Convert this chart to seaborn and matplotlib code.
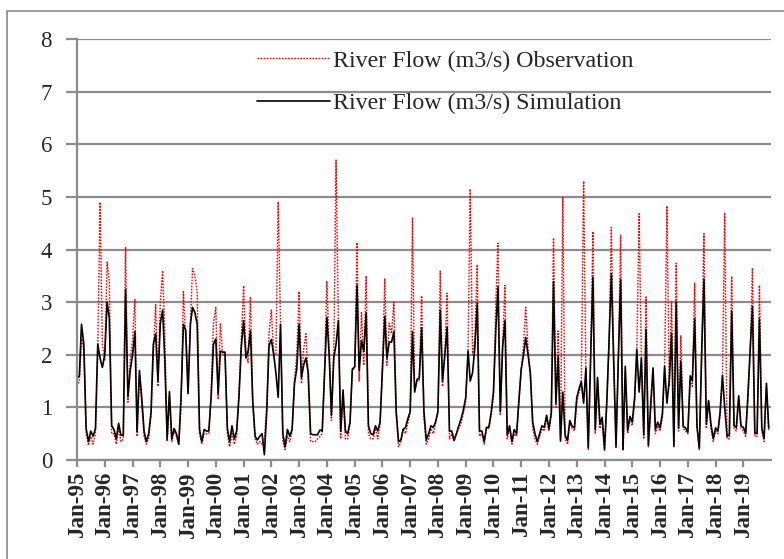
import numpy as np
import pandas as pd
import matplotlib
matplotlib.use("Agg")
import matplotlib.pyplot as plt
import matplotlib.dates as mdates
from matplotlib.patches import Rectangle
import seaborn as sns

# ---------------- data (monthly, Jan-1995 .. Dec-2019) ----------------
start_month = "1995-01-01"
n_months = 300

sim_flow = [
    1.55, 1.60, 2.58, 2.20, 0.60, 0.35, 0.55, 0.45, 0.60, 2.20, 1.93, 1.76,  # 1995
    2.00, 3.00, 2.70, 0.65, 0.58, 0.40, 0.70, 0.47, 0.47, 3.24, 1.20, 1.70,  # 1996
    2.00, 2.44, 0.54, 1.70, 1.20, 0.55, 0.35, 0.50, 0.90, 2.20, 2.40, 1.50,  # 1997
    2.60, 2.85, 1.90, 0.40, 1.30, 0.40, 0.60, 0.50, 0.30, 1.20, 2.58, 2.47,  # 1998
    1.26, 2.58, 2.90, 2.80, 2.58, 0.58, 0.35, 0.58, 0.55, 0.55, 1.20, 2.20,  # 1999
    2.30, 1.26, 2.07, 2.05, 2.05, 0.60, 0.35, 0.65, 0.40, 0.55, 1.20, 2.14,  # 2000
    2.65, 1.94, 2.07, 2.46, 1.12, 0.45, 0.38, 0.45, 0.50, 0.10, 0.92, 2.17,  # 2001
    2.29, 2.00, 1.66, 1.19, 2.58, 0.50, 0.25, 0.58, 0.45, 0.58, 1.46, 1.73,  # 2002
    2.58, 1.56, 1.80, 1.94, 1.66, 0.50, 0.48, 0.48, 0.48, 0.57, 0.55, 1.60,  # 2003
    2.71, 2.00, 0.85, 1.94, 2.20, 2.65, 0.55, 1.33, 0.55, 0.50, 0.72, 1.73,  # 2004
    1.77, 3.32, 1.70, 2.27, 2.07, 2.80, 0.65, 0.50, 0.48, 0.65, 0.55, 0.72,  # 2005
    1.73, 2.73, 1.94, 2.24, 2.24, 2.44, 0.92, 0.35, 0.38, 0.58, 0.62, 0.78,  # 2006
    0.92, 2.44, 1.29, 1.53, 1.56, 2.51, 0.92, 0.38, 0.50, 0.65, 0.62, 0.72,  # 2007
    0.92, 2.85, 1.50, 2.00, 2.52, 0.55, 0.55, 0.38, 0.50, 0.65, 0.78, 0.95,  # 2008
    1.19, 2.07, 1.50, 1.66, 2.14, 2.98, 0.55, 0.55, 0.35, 0.62, 0.62, 0.89,  # 2009
    1.30, 2.48, 3.29, 0.92, 2.14, 2.65, 0.48, 0.65, 0.35, 0.58, 0.50, 1.12,  # 2010
    1.73, 2.00, 2.33, 2.00, 1.66, 0.72, 0.50, 0.35, 0.50, 0.65, 0.62, 0.85,  # 2011
    0.60, 0.90, 3.39, 1.08, 1.97, 0.37, 1.29, 0.47, 0.37, 0.75, 0.64, 0.61,  # 2012
    1.19, 1.36, 1.49, 1.08, 1.75, 0.24, 1.90, 3.47, 0.58, 1.57, 0.68, 0.81,  # 2013
    0.20, 1.15, 2.24, 3.54, 1.90, 0.27, 1.90, 3.43, 0.20, 1.78, 0.56, 0.83,  # 2014
    0.72, 1.19, 2.10, 1.29, 1.94, 0.48, 2.48, 0.28, 1.06, 1.75, 0.58, 0.72,  # 2015
    0.61, 0.88, 1.78, 1.08, 1.50, 2.41, 0.27, 3.00, 0.61, 1.88, 0.64, 0.61,  # 2016
    0.53, 1.60, 1.50, 2.69, 0.65, 0.22, 2.00, 3.44, 0.68, 1.13, 0.68, 0.41,  # 2017
    0.61, 0.55, 0.90, 1.61, 1.00, 0.45, 0.48, 2.83, 0.65, 0.62, 1.22, 0.65,  # 2018
    0.62, 0.51, 1.20, 2.10, 2.92, 0.51, 0.51, 2.68, 0.61, 0.41, 1.46, 0.61,  # 2019
]

obs_flow = [
    1.40, 1.50, 2.30, 2.10, 0.50, 0.28, 0.45, 0.30, 0.50, 2.10, 4.90, 2.20,  # 1995
    1.90, 3.76, 3.40, 0.50, 0.50, 0.30, 0.60, 0.35, 0.40, 4.05, 1.10, 1.90,  # 1996
    2.30, 3.05, 0.45, 1.60, 1.10, 0.45, 0.30, 0.40, 0.85, 2.00, 2.95, 1.40,  # 1997
    3.00, 3.60, 2.40, 0.35, 1.20, 0.35, 0.55, 0.45, 0.30, 1.00, 3.20, 2.30,  # 1998
    1.30, 2.60, 3.64, 3.50, 3.20, 0.50, 0.30, 0.50, 0.50, 0.50, 1.30, 2.60,  # 1999
    2.90, 1.15, 2.60, 2.00, 2.00, 0.50, 0.25, 0.50, 0.30, 0.45, 1.30, 2.30,  # 2000
    3.31, 2.00, 1.85, 3.10, 1.10, 0.40, 0.30, 0.35, 0.30, 0.40, 1.00, 2.40,  # 2001
    2.85, 2.00, 2.00, 4.91, 2.60, 0.35, 0.20, 0.45, 0.35, 0.55, 1.50, 2.00,  # 2002
    3.20, 1.45, 2.10, 2.40, 1.50, 0.35, 0.35, 0.35, 0.40, 0.45, 0.50, 1.70,  # 2003
    3.40, 2.00, 0.75, 2.00, 5.70, 2.60, 0.40, 1.20, 0.40, 0.40, 0.70, 1.70,  # 2004
    1.75, 4.13, 1.50, 2.80, 1.80, 3.50, 0.50, 0.40, 0.40, 0.60, 0.40, 0.70,  # 2005
    1.70, 3.45, 1.80, 2.60, 2.40, 3.00, 0.90, 0.25, 0.35, 0.60, 0.50, 0.70,  # 2006
    0.90, 4.61, 1.30, 1.50, 1.50, 3.12, 0.80, 0.30, 0.40, 0.60, 0.50, 0.70,  # 2007
    0.90, 3.59, 1.40, 2.00, 3.17, 0.40, 0.50, 0.35, 0.50, 0.60, 0.70, 0.90,  # 2008
    1.10, 2.10, 5.15, 2.00, 2.30, 3.71, 0.45, 0.50, 0.30, 0.60, 0.60, 0.85,  # 2009
    1.20, 3.00, 4.12, 0.85, 2.20, 3.32, 0.40, 0.60, 0.30, 0.50, 0.45, 1.10,  # 2010
    1.70, 2.20, 2.90, 2.10, 1.60, 0.60, 0.40, 0.30, 0.45, 0.60, 0.55, 0.80,  # 2011
    0.55, 0.85, 4.22, 1.00, 2.45, 0.35, 5.00, 0.40, 0.30, 0.70, 0.60, 0.55,  # 2012
    1.10, 1.30, 1.40, 5.30, 1.70, 0.20, 1.80, 4.34, 0.50, 1.50, 0.60, 0.75,  # 2013
    0.18, 1.10, 2.20, 4.42, 1.80, 0.22, 1.80, 4.27, 0.18, 1.70, 0.50, 0.80,  # 2014
    0.65, 1.10, 2.00, 4.68, 1.90, 0.40, 3.10, 0.25, 1.00, 1.70, 0.50, 0.65,  # 2015
    0.55, 0.80, 1.70, 4.83, 1.40, 3.02, 0.25, 3.74, 0.55, 2.36, 0.60, 0.55,  # 2016
    0.50, 1.50, 1.40, 3.36, 0.60, 0.20, 1.90, 4.30, 0.60, 1.10, 0.60, 0.35,  # 2017
    0.55, 0.50, 0.85, 1.55, 4.70, 0.40, 0.40, 3.49, 0.60, 0.55, 1.15, 0.60,  # 2018
    0.55, 0.45, 1.10, 2.00, 3.65, 0.45, 0.45, 3.32, 0.55, 0.35, 1.40, 0.55,  # 2019
]

obs_label = "River Flow (m3/s) Observation"
sim_label = "River Flow (m3/s) Simulation"
y_ticks = [0, 1, 2, 3, 4, 5, 6, 7, 8]

dates = pd.date_range(start_month, periods=n_months, freq="MS")
df = pd.DataFrame({"date": dates, "obs": obs_flow, "sim": sim_flow})

# ---------------- figure ----------------
sns.set_theme(style="white")
plt.rcParams["font.family"] = ["Liberation Serif", "DejaVu Serif"]

W, H = 784, 559
fig = plt.figure(figsize=(W / 100, H / 100), dpi=100)
fig.patch.set_facecolor("white")

# outer chart border (Excel style)
fig.add_artist(Rectangle((7 / W, -0.2), 1.2, (H - 11) / H + 0.2,
                         transform=fig.transFigure, fill=False,
                         edgecolor="#8a8a8a", lw=1.2))

ax_left, ax_right = 77.0, 771.0
ax_top, ax_bottom = 39, 460
ax = fig.add_axes([ax_left / W, (H - ax_bottom) / H,
                   (ax_right - ax_left) / W, (ax_bottom - ax_top) / H])

sns.lineplot(data=df, x="date", y="obs", ax=ax, color="#ff0000",
             lw=1.0, linestyle=(0, (1.2, 1.0)), label=obs_label)
sns.lineplot(data=df, x="date", y="sim", ax=ax, color="black",
             lw=1.2, label=sim_label)

grid_c = "#8c8c8c"
ax.set_ylim(0, 8)
ax.set_yticks(y_ticks)
ax.set_xlim(pd.Timestamp("1995-01-01"), pd.Timestamp("2019-12-31"))
ax.xaxis.set_major_locator(mdates.YearLocator())
ax.xaxis.set_major_formatter(mdates.DateFormatter("%b-%y"))
ax.set_xlabel("")
ax.set_ylabel("")
ax.yaxis.grid(True, color=grid_c, lw=1.6)
ax.xaxis.grid(False)
ax.set_axisbelow(True)
for s in ["top", "right"]:
    ax.spines[s].set_visible(False)
for s in ["left", "bottom"]:
    ax.spines[s].set_color(grid_c)
    ax.spines[s].set_linewidth(1.6)

ax.tick_params(axis="y", left=True, length=8, width=1.6, color=grid_c,
               direction="out", labelsize=16.5, pad=10)
ax.tick_params(axis="x", bottom=True, length=5, width=1.6, color=grid_c,
               direction="out", labelsize=16.5, pad=3)
for lab in ax.get_xticklabels():
    lab.set_rotation(90)
    lab.set_fontweight("bold")

leg = ax.legend(loc="upper left", bbox_to_anchor=(257 / W, (H - 50) / H),
                bbox_transform=fig.transFigure, frameon=False,
                fontsize=17.3, handlelength=3.05, handletextpad=0.12,
                labelspacing=0.85, borderpad=0, borderaxespad=0)

fig.savefig("out.png", dpi=100, facecolor="white")
